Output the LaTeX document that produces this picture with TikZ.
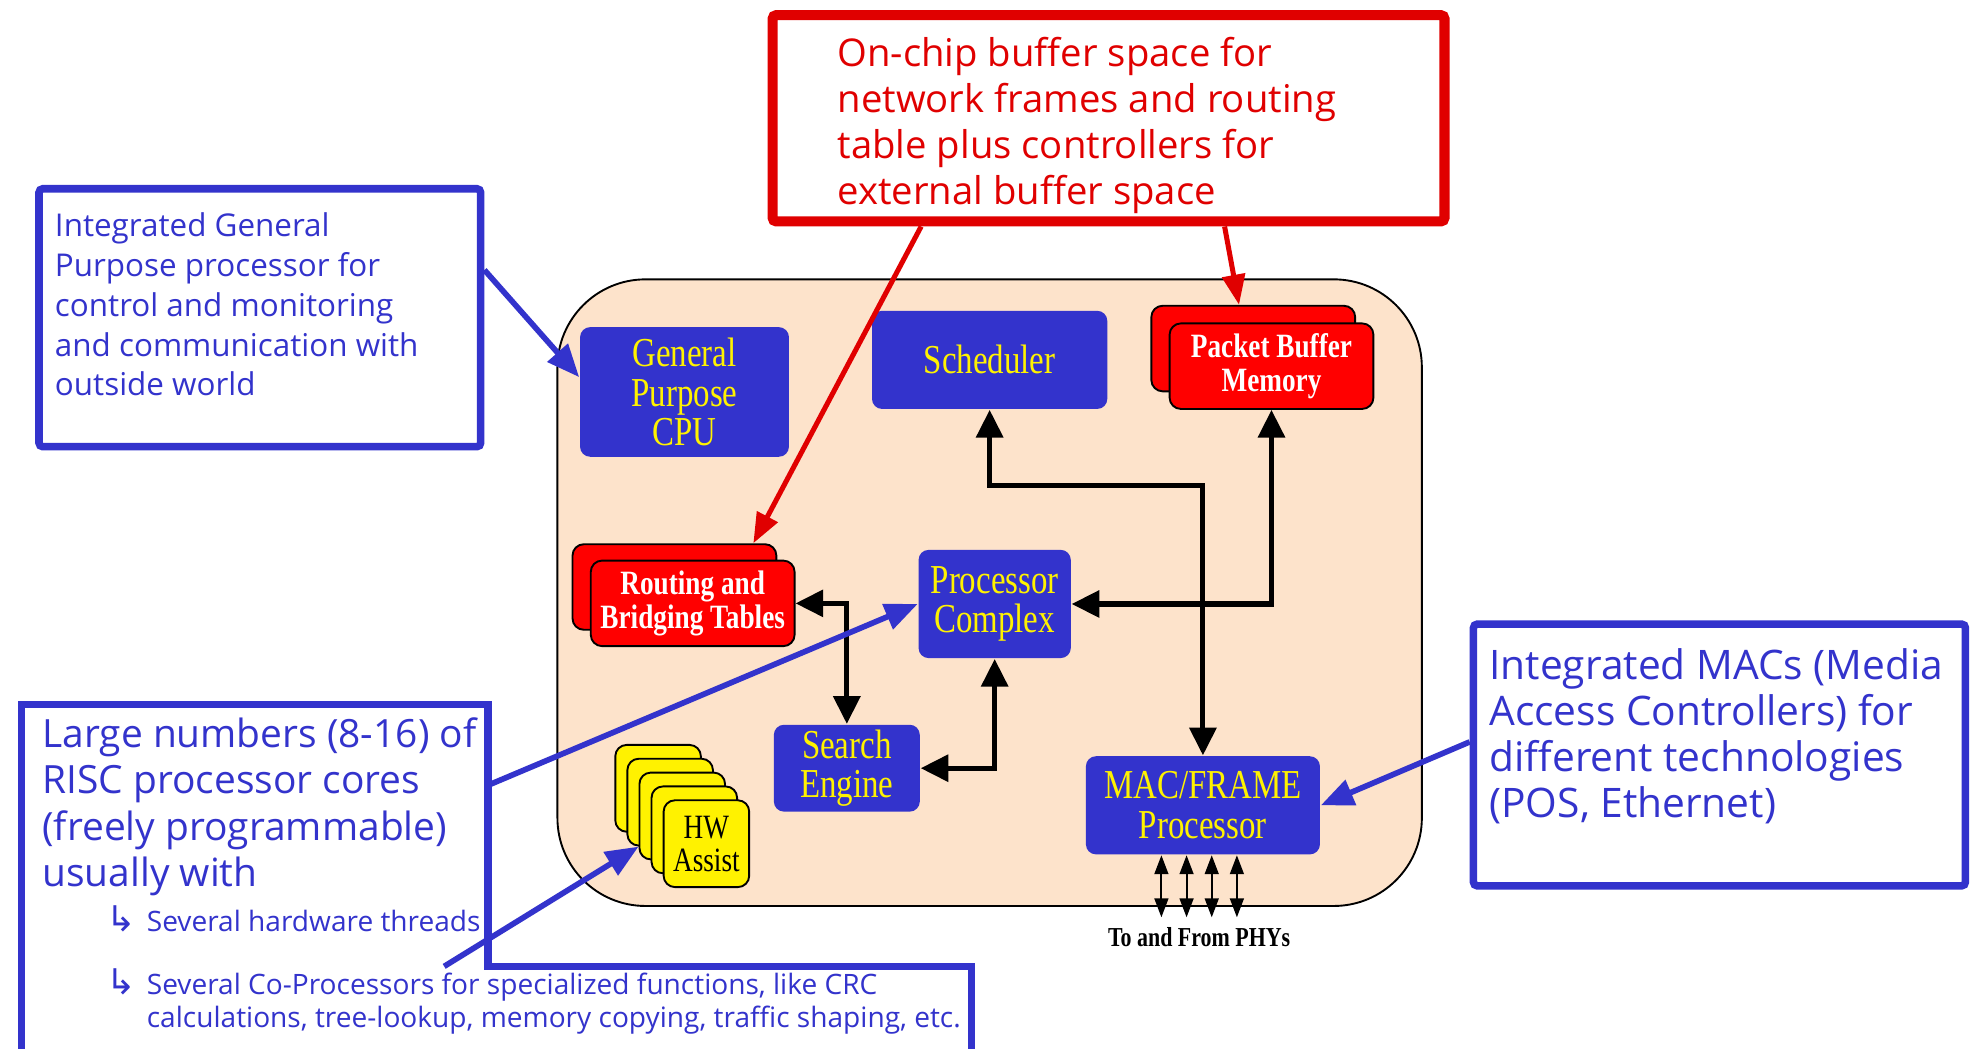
\documentclass[tikz,border=0pt]{standalone}
\usepackage{fontspec}
\setmainfont{Liberation Serif}
\newfontfamily\notefont{Open Sans}
\newfontfamily\chipfont[FakeStretch=0.8]{Liberation Serif}
\newfontfamily\symfont{DejaVu Sans}
\usepackage{xcolor}
\usepackage{tikz}
\usetikzlibrary{positioning,arrows.meta}
\definecolor{chipblue}{RGB}{51,51,204}
\definecolor{notered}{RGB}{224,0,0}
\definecolor{chippeach}{RGB}{253,227,203}
\newcommand{\subarrow}{\makebox[3.2mm][l]{\symfont\fontsize{8}{8}\selectfont ↳}}

\begin{document}
\begin{tikzpicture}[x=0.1mm, y=-0.1mm,
  blockbox/.style={fill=chipblue, rounded corners=0.8mm, inner sep=0pt, text=yellow, align=center, font=\chipfont\fontsize{9.3}{9}\selectfont},
  memobox/.style={fill=red, draw=black, line width=0.15mm, rounded corners=0.9mm, inner sep=0pt, minimum width=16.2mm, minimum height=6.8mm, text=white, align=center, font=\chipfont\bfseries\fontsize{7.7}{7.8}\selectfont},
  hwbox/.style={fill=yellow, draw=black, line width=0.15mm, rounded corners=0.9mm, inner sep=0pt, minimum width=6.8mm, minimum height=6.9mm, align=center, font=\chipfont\fontsize{7.7}{7.4}\selectfont},
  notebox/.style={draw=chipblue, line width=0.6mm, rounded corners=0.3mm, inner sep=0pt},
  notetext/.style={anchor=west, inner sep=0pt, align=left, text=chipblue},
  link/.style={line width=0.4mm, >={Triangle[length=2.2mm,width=2.1mm]}},
  phylink/.style={line width=0.15mm, >={Triangle[length=1.5mm,width=1.1mm]}},
  blueptr/.style={chipblue, line width=0.45mm, -{Triangle[length=2.6mm,width=2.1mm]}},
  redptr/.style={notered, line width=0.4mm, -{Triangle[length=2.4mm,width=1.8mm]}}]

\fill[white] (0,0) rectangle (1568,833);
\useasboundingbox (0,0) rectangle (1568,833);

% chip body
\node[draw=black, fill=chippeach, line width=0.15mm, rounded corners=7mm, minimum width=68.7mm, minimum height=49.8mm] at (786.5,471) (chip) {};

\node[blockbox, minimum width=16.6mm, minimum height=10.3mm] at (544,311.5) (cpu) {General\\Purpose\\CPU};
\node[blockbox, minimum width=18.7mm, minimum height=7.8mm] at (786.5,286) (sched) {Scheduler};
\node[memobox] at (996,277) (pbmb) {};
\node[memobox] at (1010.5,291) (pbm) {Packet Buffer\\Memory};
\node[memobox] at (536,466.5) (rbtb) {};
\node[memobox] at (550.5,479.5) (rbt) {Routing and\\Bridging Tables};
\node[blockbox, minimum width=12.1mm, minimum height=8.6mm] at (790.5,480) (pc) {Processor\\Complex};
\node[blockbox, minimum width=11.6mm, minimum height=6.9mm] at (673,610.5) (se) {Search\\Engine};
\node[blockbox, minimum width=18.6mm, minimum height=7.8mm] at (956,640) (mac) {MAC/FRAME\\Processor};

\foreach \i in {1,...,4}
  \node[hwbox] at (523+9.6*\i-9.6,626.5+11*\i-11) (hw\i) {};
\node[hwbox] at (561.4,670.5) (hw5) {HW\\Assist};

\draw[link, <->] (sched.south) -- ++(0,60) -| (mac.north);
\draw[link, <->] (pbm.south) |- (pc.east);
\draw[link, <->] (rbt.east) -| (se.north);
\draw[link, <->] (pc.south) |- (se.east);

\node[inner sep=0pt, font=\chipfont\bfseries\fontsize{6.2}{6.2}\selectfont] at (953,745) (phy) {To and From PHYs};
\coordinate (phyend) at (956,729);
\foreach \dx in {-3.3,-1.3,0.7,2.7}
  \draw[phylink, <->] ([xshift=\dx mm]mac.south) -- ([xshift=\dx mm]phyend);

% callouts
\node[notebox, draw=notered, line width=0.8mm, minimum width=53.4mm, minimum height=16.4mm] at (881,94) (memnote) {};
\node[notetext, text=notered, font=\notefont\fontsize{8.65}{10.4}\selectfont] at (665,100) (memtext) {On-chip buffer space for\\network frames and routing\\table plus controllers for\\external buffer space};

\node[notebox, minimum width=35.1mm, minimum height=20.5mm] at (206.5,252.5) (cpunote) {};
\node[notetext, font=\notefont\fontsize{7.1}{9}\selectfont] at (43,242) (cputext) {Integrated General\\Purpose processor for\\control and monitoring\\and communication with\\outside world};

\node[notebox, minimum width=39.1mm, minimum height=20.8mm] at (1366.5,600) (macnote) {};
\node[notetext, font=\notefont\fontsize{9.2}{10.4}\selectfont] at (1183,585.5) (mactext) {Integrated MACs (Media\\Access Controllers) for\\different technologies\\(POS, Ethernet)};

\draw[chipblue, line width=0.6mm] (17,845) -- (17,560) -- (388,560) -- (388,768) -- (772,768) -- (772,845);
\coordinate (riscout) at (388,624);
\coordinate (copin) at (353,768);
\node[notetext, font=\notefont\fontsize{8.8}{10.5}\selectfont] at (33,641) (risctext) {Large numbers (8-16) of\\RISC processor cores\\(freely programmable)\\usually with};
\node[notetext, font=\notefont\fontsize{6.35}{7.4}\selectfont] at (84,730) (thrtext) {\subarrow Several hardware threads};
\node[notetext, font=\notefont\fontsize{6.35}{7.4}\selectfont] at (84,796) (coptext) {\subarrow Several Co-Processors for specialized functions, like CRC\\\hspace*{3.2mm}calculations, tree-lookup, memory copying, traffic shaping, etc.};

\draw[blueptr] (cpunote.12.7) -- (cpu.172);
\draw[blueptr] (riscout) -- (pc.west);
\draw[blueptr] (copin) -- (hw3.215);
\draw[blueptr] (macnote.177) -- (mac.east);

\draw[redptr] (memnote.210.4) -- (rbtb.29.5);
\draw[redptr] (memnote.317.3) -- (pbmb.108);

\end{tikzpicture}
\end{document}
